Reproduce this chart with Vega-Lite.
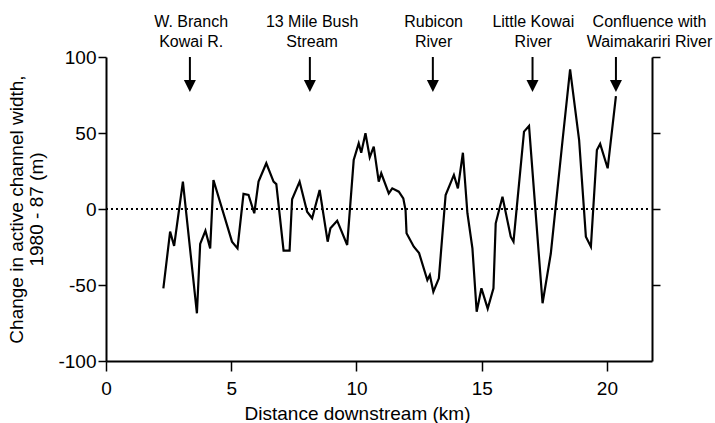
{
  "$schema": "https://vega.github.io/schema/vega-lite/v6.json",
  "autosize": {"type": "none"},
  "padding": {"left": 106, "top": 57, "right": 63, "bottom": 62},
  "width": 546,
  "height": 304,
  "background": "white",
  "config": {
    "view": {"stroke": null},
    "font": "Liberation Sans",
    "axis": {
      "grid": false,
      "domainColor": "black",
      "domainWidth": 2,
      "tickColor": "black",
      "tickWidth": 1.5,
      "labelColor": "black",
      "titleColor": "black",
      "labelFont": "Liberation Sans",
      "titleFont": "Liberation Sans",
      "labelFontSize": 19,
      "titleFontSize": 19,
      "titleFontWeight": "normal",
      "labelFlush": false
    }
  },
  "datasets": {
    "width_change": [
      {"km": 2.29, "change": -52.2},
      {"km": 2.56, "change": -14.9},
      {"km": 2.72, "change": -24.3},
      {"km": 3.07, "change": 18.0},
      {"km": 3.63, "change": -68.6},
      {"km": 3.76, "change": -23.0},
      {"km": 3.97, "change": -14.3},
      {"km": 4.16, "change": -25.9},
      {"km": 4.29, "change": 19.1},
      {"km": 5.03, "change": -21.5},
      {"km": 5.25, "change": -25.9},
      {"km": 5.49, "change": 9.9},
      {"km": 5.69, "change": 9.2},
      {"km": 5.92, "change": -2.8},
      {"km": 6.09, "change": 18.0},
      {"km": 6.4, "change": 30.1},
      {"km": 6.69, "change": 18.0},
      {"km": 6.8, "change": 16.4},
      {"km": 7.09, "change": -27.4},
      {"km": 7.33, "change": -27.4},
      {"km": 7.43, "change": 6.4},
      {"km": 7.73, "change": 18.0},
      {"km": 8.03, "change": -1.8},
      {"km": 8.23, "change": -6.1},
      {"km": 8.53, "change": 12.5},
      {"km": 8.85, "change": -21.5},
      {"km": 8.96, "change": -12.7},
      {"km": 9.23, "change": -7.7},
      {"km": 9.63, "change": -23.7},
      {"km": 9.89, "change": 32.2},
      {"km": 10.09, "change": 43.2},
      {"km": 10.19, "change": 37.0},
      {"km": 10.36, "change": 49.8},
      {"km": 10.53, "change": 34.0},
      {"km": 10.69, "change": 41.0},
      {"km": 10.89, "change": 18.0},
      {"km": 10.99, "change": 23.5},
      {"km": 11.29, "change": 10.3},
      {"km": 11.43, "change": 13.6},
      {"km": 11.69, "change": 11.4},
      {"km": 11.87, "change": 7.0},
      {"km": 11.96, "change": -0.7},
      {"km": 12.0, "change": -16.0},
      {"km": 12.29, "change": -24.8},
      {"km": 12.5, "change": -29.0},
      {"km": 12.83, "change": -46.7},
      {"km": 12.93, "change": -43.4},
      {"km": 13.07, "change": -54.4},
      {"km": 13.29, "change": -45.6},
      {"km": 13.56, "change": 9.2},
      {"km": 13.89, "change": 22.4},
      {"km": 14.05, "change": 13.6},
      {"km": 14.25, "change": 37.0},
      {"km": 14.43, "change": -2.8},
      {"km": 14.63, "change": -25.9},
      {"km": 14.8, "change": -67.6},
      {"km": 14.99, "change": -52.2},
      {"km": 15.24, "change": -65.5},
      {"km": 15.47, "change": -52.2},
      {"km": 15.56, "change": -9.4},
      {"km": 15.83, "change": 8.1},
      {"km": 16.16, "change": -18.2},
      {"km": 16.27, "change": -21.5},
      {"km": 16.69, "change": 50.9},
      {"km": 16.89, "change": 54.6},
      {"km": 17.43, "change": -62.0},
      {"km": 17.76, "change": -29.3},
      {"km": 18.23, "change": 45.4},
      {"km": 18.53, "change": 91.9},
      {"km": 18.89, "change": 45.4},
      {"km": 19.16, "change": -18.2},
      {"km": 19.36, "change": -24.8},
      {"km": 19.6, "change": 38.8},
      {"km": 19.73, "change": 42.8},
      {"km": 20.03, "change": 26.8},
      {"km": 20.36, "change": 74.3}
    ],
    "tributaries": [
      {"km": 3.35, "label_km": 3.4, "label": ["W. Branch", "Kowai R."]},
      {"km": 8.14, "label_km": 8.23, "label": ["13 Mile Bush", "Stream"]},
      {"km": 13.05, "label_km": 13.08, "label": ["Rubicon", "River"]},
      {"km": 17.03, "label_km": 17.06, "label": ["Little Kowai", "River"]},
      {"km": 20.36, "label_km": 21.7, "label": ["Confluence with", "Waimakariri River"]}
    ],
    "reference_line": [
      {"change": 0}
    ]
  },
  "resolve": {"axis": {"y": "independent"}},
  "layer": [
    {
      "data": {"name": "width_change"},
      "mark": {"type": "line", "color": "black", "strokeWidth": 2.2},
      "encoding": {
        "x": {
          "field": "km",
          "type": "quantitative",
          "scale": {"domain": [0, 21.8], "nice": false, "zero": false},
          "axis": {
            "values": [0, 5, 10, 15, 20],
            "tickSize": 10,
            "labelPadding": 8,
            "title": "Distance downstream (km)",
            "titleX": 251,
            "titleY": 58,
            "titleBaseline": "alphabetic"
          }
        },
        "y": {
          "field": "change",
          "type": "quantitative",
          "scale": {"domain": [-100, 100], "nice": false, "zero": false},
          "axis": {
            "values": [-100, -50, 0, 50, 100],
            "labelExpr": "datum.value < 0 ? '-' + abs(datum.value) : '' + datum.value",
            "tickSize": 8,
            "labelPadding": 2,
            "title": ["Change in active channel width,", "1980 - 87 (m)"],
            "titleLineHeight": 20,
            "titleX": -84,
            "titleY": 152,
            "titleBaseline": "alphabetic"
          }
        }
      }
    },
    {
      "data": {"name": "reference_line"},
      "mark": {"type": "rule", "color": "black", "strokeWidth": 2, "strokeDash": [2, 3]},
      "encoding": {
        "x": {"datum": 0, "type": "quantitative"},
        "x2": {"datum": 21.7},
        "y": {
          "field": "change",
          "type": "quantitative",
          "axis": {
            "orient": "right",
            "values": [-50, 0, 50, 100],
            "labels": false,
            "tickSize": 8,
            "title": null
          }
        }
      }
    },
    {
      "data": {"name": "tributaries"},
      "mark": {"type": "rule", "color": "black", "strokeWidth": 2},
      "encoding": {
        "x": {"field": "km", "type": "quantitative"},
        "y": {"datum": 100, "type": "quantitative", "axis": null},
        "y2": {"datum": 82}
      }
    },
    {
      "data": {"name": "tributaries"},
      "mark": {"type": "point", "shape": "M-1,-1L1,-1L0,1Z", "filled": true, "color": "black", "opacity": 1, "size": 144},
      "encoding": {
        "x": {"field": "km", "type": "quantitative"},
        "y": {"datum": 80.9, "type": "quantitative", "axis": null}
      }
    },
    {
      "data": {"name": "tributaries"},
      "mark": {"type": "text", "color": "black", "fontSize": 16, "font": "Liberation Sans", "align": "center", "baseline": "alphabetic", "lineHeight": 20},
      "encoding": {
        "x": {"field": "label_km", "type": "quantitative"},
        "y": {"datum": 119.7, "type": "quantitative", "axis": null},
        "text": {"field": "label"}
      }
    }
  ]
}
